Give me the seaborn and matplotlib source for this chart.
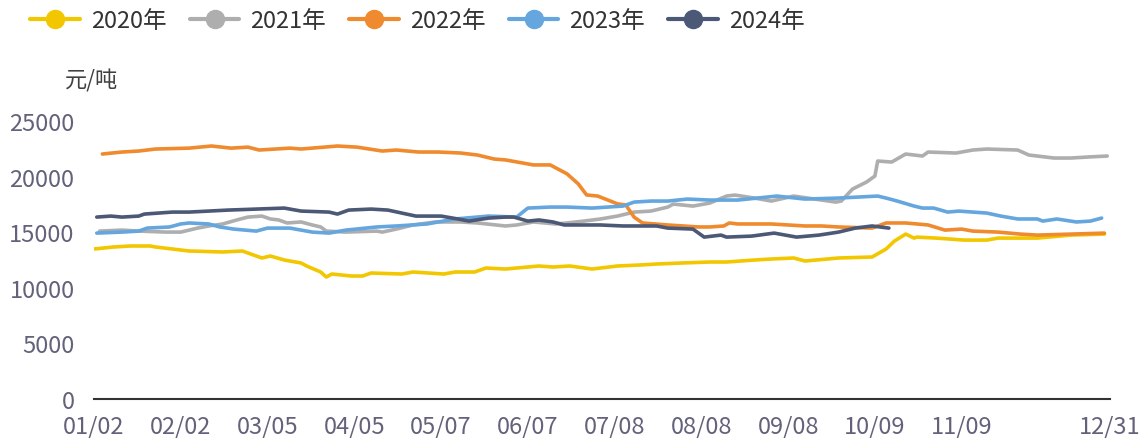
import pandas as pd
import numpy as np
import matplotlib
matplotlib.use('Agg')
import matplotlib.pyplot as plt
from matplotlib.lines import Line2D
import seaborn as sns

sns.set_theme(style='white')
plt.rcParams['font.family'] = ['Noto Sans CJK SC', 'DejaVu Sans']

# dias contados a partir de 01/02, valores em 元/吨
days_2020 = [0, 7, 13, 20, 22, 34, 46, 53, 58, 60, 63, 68, 74, 76, 81, 83, 85, 92, 96, 99,
             110, 114, 125, 129, 136, 140, 147, 151, 159, 164, 170, 178, 187, 195, 201, 210,
             220, 226, 236, 242, 250, 254, 266, 278, 283, 286, 290, 293, 294, 301, 311, 319,
             323, 337, 349, 361]
vals_2020 = [13490, 13670, 13760, 13760, 13670, 13310, 13220, 13310, 12860, 12680, 12860,
             12500, 12230, 11960, 11420, 10970, 11240, 11060, 11060, 11330, 11240, 11420,
             11240, 11420, 11420, 11780, 11690, 11780, 11960, 11870, 11960, 11690, 11960,
             12050, 12140, 12230, 12320, 12320, 12500, 12590, 12680, 12410, 12680, 12770,
             13490, 14210, 14830, 14470, 14560, 14470, 14290, 14290, 14470, 14470, 14740, 14830]

days_2021 = [2, 10, 16, 26, 31, 37, 41, 46, 51, 55, 60, 63, 66, 69, 74, 78, 81, 83, 90, 101,
             103, 108, 114, 122, 131, 137, 147, 151, 157, 165, 169, 175, 181, 187, 193, 199,
             205, 207, 214, 220, 226, 229, 236, 242, 250, 260, 265, 267, 271, 276, 279, 280,
             285, 290, 296, 298, 308, 314, 319, 330, 334, 343, 349, 355, 362]
vals_2021 = [15100, 15190, 15100, 15010, 15010, 15370, 15560, 15740, 16100, 16360, 16450,
             16190, 16100, 15830, 15920, 15650, 15470, 15100, 15010, 15100, 15010, 15280,
             15650, 15920, 15920, 15830, 15560, 15650, 15920, 15740, 15830, 16000, 16190,
             16450, 16810, 16900, 17260, 17530, 17350, 17620, 18250, 18340, 18070, 17800,
             18250, 17890, 17710, 17800, 18880, 19510, 20050, 21400, 21310, 22030, 21850,
             22210, 22120, 22390, 22480, 22390, 21940, 21670, 21670, 21760, 21850]

days_2022 = [3, 10, 16, 22, 34, 42, 49, 55, 59, 70, 74, 87, 94, 103, 108, 116, 123, 131, 137,
             143, 147, 157, 163, 169, 173, 176, 180, 187, 190, 193, 196, 205, 216, 220, 225,
             227, 230, 242, 254, 260, 266, 278, 283, 290, 298, 304, 310, 314, 323, 331, 337,
             349, 361]
vals_2022 = [22030, 22210, 22300, 22480, 22560, 22750, 22560, 22650, 22390, 22560, 22480,
             22750, 22650, 22300, 22390, 22210, 22210, 22120, 21940, 21580, 21500, 21050,
             21050, 20250, 19350, 18350, 18250, 17550, 17450, 16350, 15830, 15650, 15470,
             15470, 15560, 15830, 15740, 15740, 15560, 15560, 15470, 15370, 15830, 15830,
             15650, 15190, 15280, 15100, 15010, 14830, 14740, 14830, 14920]

days_2023 = [1, 10, 16, 19, 27, 31, 34, 41, 45, 50, 58, 62, 70, 74, 78, 84, 90, 101, 108, 119,
             123, 129, 141, 151, 155, 163, 169, 178, 189, 193, 199, 205, 212, 220, 230, 244,
             254, 266, 280, 283, 287, 293, 296, 300, 305, 309, 319, 324, 330, 337, 339, 344,
             351, 356, 360]
vals_2023 = [14920, 15010, 15100, 15370, 15470, 15740, 15830, 15740, 15470, 15280, 15100,
             15370, 15370, 15190, 15010, 14920, 15190, 15470, 15560, 15740, 15920, 16190,
             16450, 16360, 17170, 17260, 17260, 17170, 17350, 17710, 17800, 17800, 17980,
             17890, 17890, 18250, 17980, 18070, 18250, 18070, 17800, 17350, 17170, 17170,
             16810, 16900, 16720, 16450, 16190, 16190, 16000, 16190, 15920, 16000, 16270]

days_2024 = [1, 6, 10, 16, 18, 28, 34, 48, 58, 68, 74, 84, 87, 91, 99, 105, 110, 115, 124,
             130, 134, 141, 147, 150, 155, 159, 164, 168, 181, 189, 201, 205, 214, 216, 218,
             224, 226, 235, 243, 251, 259, 266, 272, 278, 284]
vals_2024 = [16360, 16450, 16360, 16450, 16630, 16810, 16810, 16990, 17080, 17170, 16900,
             16810, 16630, 16990, 17080, 16990, 16720, 16450, 16450, 16190, 16000, 16270,
             16360, 16360, 16000, 16100, 15920, 15650, 15650, 15560, 15560, 15370, 15280,
             14920, 14560, 14740, 14560, 14650, 14920, 14560, 14740, 15010, 15370, 15560, 15370]

years = ['2020年', '2021年', '2022年', '2023年', '2024年']
colors = ['#F2C700', '#AEAEAE', '#F08A2E', '#65A6DF', '#4B5876']
tick_labels = ['01/02', '02/02', '03/05', '04/05', '05/07', '06/07', '07/08', '08/08',
               '09/08', '10/09', '11/09', '', '12/31']

df = pd.concat([
    pd.DataFrame({'day': d, 'price': v, 'year': y})
    for d, v, y in zip([days_2020, days_2021, days_2022, days_2023, days_2024],
                       [vals_2020, vals_2021, vals_2022, vals_2023, vals_2024], years)
])

fig = plt.figure(figsize=(11.46, 4.39), dpi=100)
ax = fig.add_axes([0.082, 0.0888, 0.8866, 0.6333])

sns.lineplot(data=df, x='day', y='price', hue='year', palette=colors, hue_order=years,
             linewidth=2.6, ax=ax, legend=False)

ax.set_xlim(0, 363)
ax.set_ylim(0, 25000)
ax.set_yticks(np.arange(0, 25001, 5000))
ax.set_xticks(list(range(0, 342, 31)) + [363])
ax.set_xticklabels(tick_labels)
ax.set_xlabel('')
ax.set_ylabel('')
for s in ['top', 'right', 'left']:
    ax.spines[s].set_visible(False)
ax.spines['bottom'].set_color('#333333')
ax.spines['bottom'].set_linewidth(1.5)
ax.tick_params(axis='x', direction='out', length=7, width=1.2, color='#333333',
               labelsize=17, labelcolor='#62627A', pad=4)
ax.tick_params(axis='y', length=0, labelsize=17, labelcolor='#62627A', pad=14)
for lbl in ax.get_yticklabels():
    lbl.set_va('center_baseline')

fig.text(0.057, 0.80, '元/吨', fontsize=16, color='#404040')

handles = [Line2D([0], [0], color=c, lw=3, marker='o', markersize=13) for c in colors]
fig.legend(handles, years, loc='upper left', bbox_to_anchor=(0.008, 1.025), ncol=5,
           frameon=False, fontsize=17, handlelength=2.1, columnspacing=1.0,
           handletextpad=0.45, labelcolor='#333333')

fig.savefig('out.png', dpi=100)
plt.close()
